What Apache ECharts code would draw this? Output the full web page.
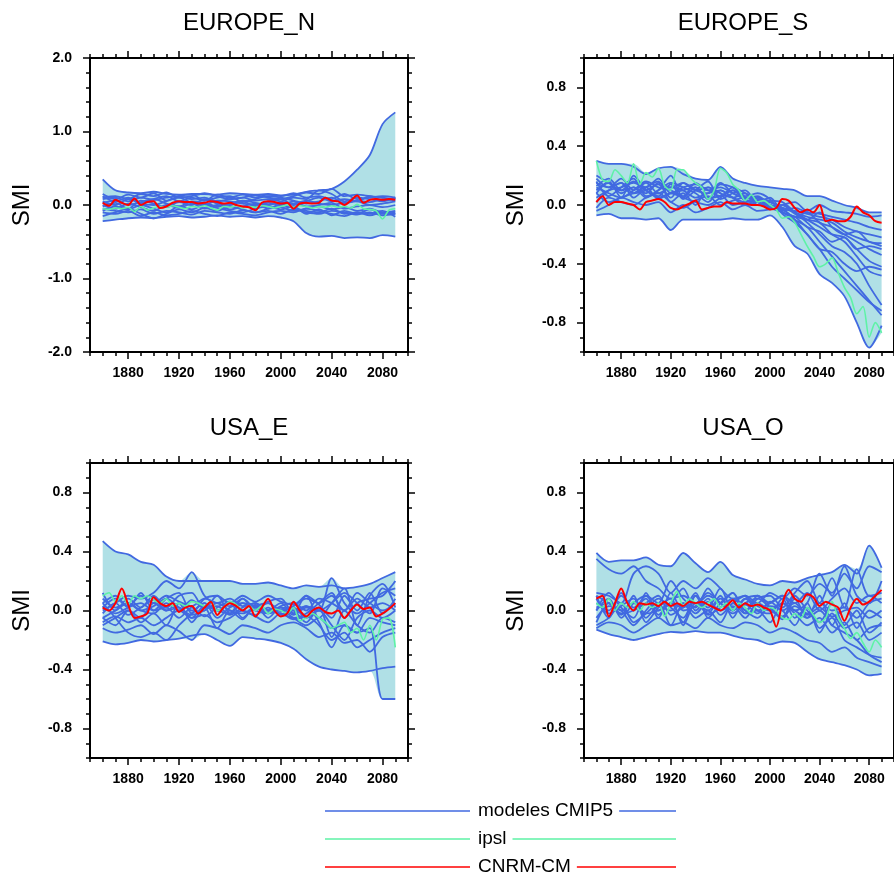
<!DOCTYPE html>
<html>
<head>
<meta charset="utf-8">
<script src="https://cdn.jsdelivr.net/npm/echarts@6/dist/echarts.min.js"></script>
<style>
  html, body { margin: 0; padding: 0; background: #fff; }
  #chart { width: 894px; height: 875px; }
</style>
</head>
<body>
<div id="chart"></div>
<script>
// Years of the smoothed CMIP5 model curves (one value per decade)
const YEARS_MODELS = [1860,1870,1880,1890,1900,1910,1920,1930,1940,1950,1960,1970,
                      1980,1990,2000,2010,2020,2030,2040,2050,2060,2070,2080,2090];
// Years of the ipsl and CNRM-CM curves (one value every 5 years)
const YEARS_RUNS = [1860,1865,1870,1875,1880,1885,1890,1895,1900,1905,
                    1910,1915,1920,1925,1930,1935,1940,1945,1950,1955,
                    1960,1965,1970,1975,1980,1985,1990,1995,2000,2005,
                    2010,2015,2020,2025,2030,2035,2040,2045,2050,2055,
                    2060,2065,2070,2075,2080,2085,2090];
// Full decade grid of the time axis (1850-2100), used to place the model spread
const YEARS_AXIS = [1850,1860,1870,1880,1890,1900,1910,1920,1930,1940,1950,1960,1970,
                    1980,1990,2000,2010,2020,2030,2040,2050,2060,2070,2080,2090,2100];

const X_TICKS = [1880, 1920, 1960, 2000, 2040, 2080];
const Y_TICKS_WIDE = [-2, -1, 0, 1, 2];
const Y_TICKS_NARROW = [-0.8, -0.4, 0, 0.4, 0.8];

// ---------------- EUROPE_N ----------------
const euN_cmip5 = [
  [0.35,0.2,0.17,0.16,0.18,0.15,0.14,0.15,0.15,0.14,0.16,0.15,0.14,0.15,0.13,0.14,0.18,0.2,0.22,0.32,0.48,0.68,1.1,1.26],
  [-0.22,-0.2,-0.18,-0.17,-0.18,-0.16,-0.15,-0.17,-0.16,-0.14,-0.16,-0.15,-0.17,-0.15,-0.17,-0.22,-0.38,-0.43,-0.42,-0.45,-0.44,-0.45,-0.41,-0.43],
  [0.1,0.12,0.08,0.15,0.12,0.17,0.1,0.12,0.16,0.12,0.08,0.1,0.13,0.1,0.08,0.12,0.17,0.15,0.22,0.12,0.14,0.12,0.1,0.08],
  [0.05,0.0,0.08,0.02,0.0,0.05,0.1,0.03,0.0,0.06,0.05,0.02,0.0,0.05,0.08,0.0,0.05,0.1,0.05,0.08,0.05,0.12,0.06,0.1],
  [-0.02,0.03,-0.05,0.06,0.02,-0.03,0.04,0.0,0.08,0.02,0.0,0.05,-0.02,0.03,0.0,0.05,-0.02,0.0,0.03,-0.05,-0.02,0.0,-0.03,0.0],
  [0.0,-0.05,0.02,-0.03,-0.08,0.0,-0.04,0.02,-0.05,0.0,-0.06,-0.02,0.02,-0.05,-0.03,-0.08,-0.05,-0.02,-0.06,-0.03,-0.08,-0.05,-0.1,-0.08],
  [-0.05,-0.08,-0.1,-0.06,-0.12,-0.08,-0.1,-0.13,-0.08,-0.1,-0.12,-0.07,-0.1,-0.08,-0.12,-0.06,-0.1,-0.12,-0.08,-0.1,-0.13,-0.1,-0.14,-0.12],
  [0.08,0.1,0.05,0.1,0.07,0.1,0.12,0.08,0.1,0.05,0.08,0.1,0.06,0.08,0.05,0.1,0.08,0.2,0.15,0.05,0.1,0.08,0.05,0.1],
  [-0.1,-0.12,-0.08,-0.15,-0.1,-0.14,-0.12,-0.08,-0.12,-0.15,-0.1,-0.12,-0.14,-0.1,-0.08,-0.1,-0.05,-0.08,-0.12,-0.15,-0.1,-0.12,-0.08,-0.16],
  [0.03,0.06,0.0,0.04,0.08,0.02,-0.02,0.05,0.03,-0.02,0.02,0.06,0.03,0.0,0.04,0.02,0.06,0.02,0.0,0.03,0.05,0.0,0.02,0.05],
  [-0.15,-0.1,-0.05,-0.12,-0.18,-0.12,-0.06,-0.1,-0.04,-0.08,-0.02,-0.06,-0.1,-0.05,0.0,-0.04,-0.08,-0.1,-0.05,-0.12,-0.1,-0.14,-0.1,-0.12],
  [0.12,0.05,0.1,0.03,0.08,0.12,0.05,0.1,0.06,0.1,0.12,0.04,0.08,0.12,0.1,0.06,0.02,0.05,0.1,0.02,0.06,0.04,0.08,0.06],
  [-0.08,-0.02,-0.06,0.0,-0.05,-0.1,-0.02,-0.06,0.0,-0.04,-0.08,-0.1,-0.05,-0.02,-0.06,-0.02,-0.12,-0.06,-0.14,-0.08,-0.12,-0.06,-0.12,-0.1],
  [0.15,0.08,0.14,0.1,0.16,0.06,0.12,0.14,0.06,0.14,0.1,0.14,0.1,0.14,0.12,0.16,0.1,0.12,0.08,0.15,0.08,0.1,0.12,0.1]
];
const euN_ipsl = [
  -0.05,-0.06,-0.04,-0.05,-0.03,-0.09,-0.02,-0.07,-0.04,-0.02,
  -0.03,-0.01,-0.03,-0.05,-0.02,-0.03,-0.01,-0.04,-0.07,-0.02,
  -0.03,-0.01,-0.04,-0.02,-0.03,-0.01,-0.02,-0.04,-0.02,0.0,
  -0.03,-0.01,-0.02,-0.04,-0.02,-0.03,-0.01,-0.03,-0.02,-0.04,
  0.01,-0.05,-0.06,-0.08,-0.19,-0.07,-0.05
];
const euN_cnrm = [
  0.03,-0.01,0.07,0.03,0.0,0.09,0.0,0.04,0.05,-0.04,
  -0.02,0.03,0.05,0.04,0.04,0.02,0.03,0.05,0.04,0.02,
  0.03,0.0,-0.02,-0.03,-0.07,0.03,0.05,0.04,0.02,0.03,
  -0.05,0.02,0.03,0.02,0.03,0.1,0.06,0.05,0.0,0.06,
  0.13,0.03,0.07,0.08,0.07,0.08,0.07
];

// ---------------- EUROPE_S ----------------
const euS_cmip5 = [
  [0.3,0.28,0.28,0.26,0.21,0.25,0.26,0.21,0.18,0.17,0.26,0.18,0.15,0.13,0.12,0.11,0.1,0.06,0.06,0.03,0.0,-0.02,-0.05,-0.05],
  [-0.07,-0.06,-0.09,-0.09,-0.1,-0.09,-0.17,-0.1,-0.1,-0.1,-0.1,-0.09,-0.1,-0.1,-0.07,-0.15,-0.28,-0.33,-0.47,-0.53,-0.62,-0.8,-0.97,-0.82],
  [0.15,0.12,0.18,0.1,0.15,0.08,0.12,0.1,0.05,0.08,0.1,0.05,0.02,0.03,0.0,-0.05,-0.1,-0.15,-0.25,-0.35,-0.45,-0.55,-0.65,-0.75],
  [0.1,0.15,0.08,0.12,0.05,0.1,0.15,0.12,0.08,0.02,0.1,0.05,0.0,0.02,-0.02,-0.03,-0.1,-0.2,-0.3,-0.42,-0.5,-0.58,-0.66,-0.72],
  [0.05,0.1,0.12,0.15,0.1,0.05,0.08,0.1,0.12,0.05,0.06,0.1,0.03,0.02,-0.02,-0.05,-0.08,-0.1,-0.12,-0.2,-0.25,-0.35,-0.45,-0.48],
  [0.18,0.12,0.15,0.08,0.1,0.14,0.05,0.15,0.1,0.12,0.08,0.05,0.08,0.0,0.02,-0.02,-0.05,-0.1,-0.15,-0.2,-0.22,-0.3,-0.38,-0.42],
  [0.12,0.08,0.05,0.1,0.16,0.12,0.1,0.06,0.15,0.1,0.12,0.08,0.05,0.06,0.0,-0.03,-0.08,-0.05,-0.12,-0.15,-0.2,-0.25,-0.3,-0.34],
  [-0.02,0.05,0.02,0.0,0.05,0.08,0.02,-0.02,0.03,0.06,0.0,0.03,0.05,0.02,-0.01,0.0,-0.05,-0.08,-0.1,-0.12,-0.18,-0.22,-0.25,-0.28],
  [0.2,0.15,0.1,0.12,0.08,0.15,0.12,0.15,0.1,0.08,0.15,0.08,0.05,0.05,0.02,-0.02,-0.04,-0.06,-0.08,-0.1,-0.15,-0.18,-0.2,-0.22],
  [0.08,0.02,0.05,0.08,0.12,0.04,0.08,0.05,0.02,0.0,0.05,0.1,0.04,0.0,0.0,-0.04,-0.02,-0.05,-0.06,-0.08,-0.1,-0.12,-0.15,-0.17],
  [-0.04,0.0,0.05,0.02,0.0,0.02,-0.05,0.0,-0.05,-0.02,0.02,-0.03,0.0,-0.04,-0.03,0.0,0.02,-0.04,0.0,-0.04,-0.05,-0.06,-0.08,-0.07],
  [0.13,0.18,0.1,0.16,0.12,0.18,0.08,0.12,0.14,0.1,0.06,0.12,0.08,0.04,0.03,0.02,-0.05,-0.12,-0.2,-0.28,-0.32,-0.4,-0.55,-0.68],
  [0.08,0.16,0.05,0.2,0.1,0.06,0.14,0.04,0.1,0.16,0.04,0.08,0.1,0.02,0.05,-0.05,-0.08,-0.15,-0.18,-0.25,-0.22,-0.3,-0.28,-0.3],
  [0.02,0.1,0.15,0.05,0.12,0.16,0.02,0.08,0.0,0.12,0.08,0.0,0.02,0.05,-0.03,0.0,-0.06,-0.1,-0.05,-0.15,-0.2,-0.18,-0.25,-0.26],
  [0.16,0.06,0.12,0.18,0.06,0.1,0.2,0.05,0.12,0.04,0.14,0.12,0.06,0.08,0.04,-0.06,-0.12,-0.2,-0.3,-0.32,-0.4,-0.45,-0.42,-0.44]
];
const euS_ipsl = [
  0.3,0.17,0.16,0.24,0.2,0.15,0.28,0.14,0.22,0.19,
  0.25,0.13,0.1,0.24,0.24,0.19,0.15,0.12,0.04,0.1,
  0.25,0.22,0.14,0.1,0.03,0.07,0.02,0.03,0.0,-0.03,
  -0.09,-0.08,-0.12,-0.2,-0.28,-0.35,-0.42,-0.4,-0.36,-0.46,
  -0.56,-0.63,-0.74,-0.69,-0.9,-0.8,-0.87
];
const euS_cnrm = [
  0.02,0.06,0.0,0.02,0.02,0.01,0.0,-0.03,0.02,0.03,
  0.04,0.02,-0.02,-0.03,-0.01,0.01,0.03,-0.03,-0.02,-0.01,
  -0.01,0.02,0.01,0.01,0.01,0.0,0.0,-0.01,-0.03,-0.02,
  0.04,0.03,-0.02,-0.05,-0.03,-0.05,0.0,-0.11,-0.1,-0.11,
  -0.11,-0.08,-0.01,-0.05,-0.07,-0.11,-0.12
];

// ---------------- USA_E ----------------
const usE_cmip5 = [
  [0.47,0.4,0.38,0.33,0.31,0.23,0.2,0.2,0.2,0.2,0.2,0.18,0.18,0.19,0.17,0.15,0.17,0.16,0.17,0.15,0.16,0.18,0.22,0.26],
  [-0.21,-0.23,-0.22,-0.2,-0.21,-0.2,-0.19,-0.17,-0.16,-0.2,-0.24,-0.18,-0.19,-0.2,-0.22,-0.26,-0.33,-0.38,-0.4,-0.41,-0.42,-0.41,-0.39,-0.38],
  [-0.1,-0.05,0.0,-0.05,0.05,0.0,0.02,-0.05,0.03,0.0,-0.02,0.05,0.0,-0.02,0.0,-0.05,-0.1,-0.05,-0.12,-0.1,-0.15,-0.12,-0.6,-0.6],
  [0.05,-0.05,-0.15,-0.18,-0.15,-0.2,-0.1,-0.02,0.05,0.0,0.05,-0.05,0.02,0.0,-0.02,-0.05,-0.02,0.05,0.12,-0.05,0.05,0.08,0.1,0.2],
  [0.0,0.05,0.1,0.08,0.12,0.2,0.15,0.26,0.1,0.05,0.08,0.03,0.05,0.0,0.05,-0.02,0.03,0.0,0.22,0.05,-0.02,0.05,0.12,0.15],
  [-0.05,0.0,0.05,0.0,0.03,0.08,0.02,-0.03,0.0,0.05,0.0,-0.02,0.03,0.05,0.0,0.02,-0.05,0.0,-0.1,-0.2,-0.05,0.0,-0.05,0.0],
  [0.03,-0.02,0.02,0.05,0.0,0.02,-0.05,0.02,-0.04,0.02,0.06,0.0,-0.03,0.02,-0.03,0.0,0.03,-0.08,-0.25,-0.1,-0.15,-0.05,-0.08,-0.1],
  [-0.02,0.05,-0.03,0.02,0.07,0.0,0.05,0.0,0.05,-0.05,0.02,0.05,0.03,-0.02,0.03,0.05,0.0,0.08,0.05,0.0,0.12,0.05,0.0,0.05],
  [0.08,0.02,0.05,0.0,-0.02,0.05,0.0,0.07,0.02,0.03,-0.03,0.02,0.05,0.0,0.02,-0.03,0.02,0.0,0.05,0.12,0.05,-0.02,0.15,0.1],
  [-0.08,-0.04,-0.08,-0.05,-0.1,-0.05,0.0,-0.05,-0.03,-0.08,-0.05,0.0,-0.04,-0.08,-0.02,-0.06,-0.04,-0.1,-0.2,-0.15,-0.25,-0.2,-0.15,-0.12],
  [0.02,0.08,0.03,0.1,0.05,0.1,0.06,0.03,0.08,0.05,0.03,0.08,0.02,0.05,0.0,0.03,0.08,0.05,0.1,0.0,0.08,0.02,0.05,0.0],
  [-0.12,-0.15,-0.13,-0.1,-0.16,-0.1,-0.14,-0.2,-0.1,-0.12,-0.16,-0.1,-0.12,-0.15,-0.1,-0.08,-0.12,-0.18,-0.15,-0.22,-0.2,-0.28,-0.18,-0.15],
  [0.05,0.1,0.02,0.12,0.0,0.08,0.12,-0.02,0.08,0.1,-0.02,0.08,0.0,0.06,0.08,-0.02,0.1,0.04,-0.05,0.1,0.0,0.12,-0.02,0.08],
  [-0.05,-0.1,0.0,-0.08,-0.02,-0.1,0.05,-0.08,0.02,-0.12,0.0,-0.06,0.04,-0.05,0.02,0.0,-0.08,0.02,-0.18,0.0,-0.1,-0.15,-0.05,-0.08],
  [0.12,0.0,0.08,0.02,0.1,0.02,0.1,0.12,0.0,0.1,0.05,0.1,0.06,0.1,0.06,0.04,0.1,-0.05,0.05,0.15,-0.1,0.1,0.18,0.02]
];
const usE_ipsl = [
  0.1,0.12,0.06,0.1,0.04,0.1,0.08,0.1,0.07,0.05,
  0.08,0.03,0.05,0.03,0.06,0.05,0.03,0.06,0.0,0.02,
  0.06,0.04,0.0,0.03,0.0,0.03,-0.02,0.01,0.0,-0.02,
  0.02,-0.07,-0.05,-0.02,-0.05,-0.08,-0.12,-0.1,-0.08,-0.15,
  -0.12,-0.2,-0.1,-0.2,-0.06,-0.05,-0.25
];
const usE_cnrm = [
  0.02,0.0,0.05,0.15,0.04,-0.05,-0.04,-0.02,0.09,0.05,
  0.03,0.05,-0.01,0.02,0.03,-0.02,0.02,0.06,-0.03,0.02,
  0.05,0.03,0.0,0.03,-0.04,0.02,0.08,0.0,-0.04,-0.02,
  0.06,0.0,-0.04,0.0,0.02,-0.01,-0.02,0.0,-0.05,0.0,
  0.04,0.01,0.02,-0.04,-0.02,0.01,0.05
];

// ---------------- USA_O ----------------
const usO_cmip5 = [
  [0.39,0.33,0.34,0.34,0.36,0.31,0.3,0.39,0.32,0.26,0.33,0.24,0.21,0.18,0.17,0.2,0.19,0.22,0.24,0.26,0.31,0.25,0.44,0.29],
  [-0.13,-0.16,-0.18,-0.2,-0.18,-0.16,-0.145,-0.15,-0.14,-0.15,-0.15,-0.17,-0.19,-0.2,-0.23,-0.21,-0.22,-0.28,-0.33,-0.35,-0.37,-0.4,-0.44,-0.43],
  [0.35,0.28,0.25,0.3,0.2,0.15,0.08,0.1,0.05,0.12,0.05,0.0,0.08,0.03,0.0,0.05,0.0,-0.05,0.0,-0.1,-0.15,-0.2,-0.3,-0.35],
  [0.12,0.1,0.05,0.25,0.3,0.25,0.12,0.2,0.15,0.22,0.15,0.08,0.1,0.05,0.12,0.08,0.15,0.1,0.18,0.12,0.25,0.15,0.3,0.26],
  [0.0,0.08,-0.05,0.05,0.1,0.0,0.05,-0.08,0.1,0.02,0.15,0.0,0.08,0.1,0.05,0.1,0.05,0.12,0.0,0.08,0.15,0.05,0.1,0.05],
  [-0.1,-0.05,0.05,-0.08,-0.02,0.05,-0.1,0.05,-0.05,0.0,-0.08,0.05,-0.02,0.0,-0.08,0.05,-0.02,-0.1,-0.05,-0.15,-0.08,-0.2,-0.12,-0.1],
  [0.05,0.0,0.1,0.02,0.08,-0.05,0.12,0.0,0.03,0.1,0.05,-0.02,0.05,0.08,0.02,-0.05,0.1,0.0,-0.08,0.05,-0.1,0.0,-0.15,-0.08],
  [-0.05,0.03,0.0,-0.1,0.0,0.08,0.02,-0.05,0.1,-0.03,0.02,0.08,0.0,-0.05,0.03,0.0,-0.1,0.05,-0.12,-0.05,-0.2,-0.25,-0.3,-0.32],
  [0.08,-0.02,0.03,0.08,-0.05,0.03,0.0,0.05,-0.02,0.06,0.0,0.03,-0.05,0.05,0.0,-0.04,0.03,-0.02,0.05,0.0,0.02,-0.05,0.05,0.08],
  [-0.12,-0.08,-0.1,-0.15,-0.1,-0.05,-0.1,-0.08,-0.12,-0.05,-0.1,-0.12,-0.08,-0.1,-0.15,-0.12,-0.15,-0.2,-0.22,-0.28,-0.25,-0.32,-0.35,-0.38],
  [0.02,0.05,-0.02,0.0,0.05,0.1,-0.03,0.02,0.05,-0.02,0.08,0.02,0.04,-0.02,0.06,0.0,0.05,-0.03,0.02,-0.04,0.0,0.02,-0.05,0.0],
  [0.1,0.05,0.0,0.05,-0.02,0.0,0.05,0.15,0.0,0.08,-0.03,0.05,0.1,0.0,0.05,0.1,0.0,0.05,0.25,0.1,0.3,0.1,0.05,0.2],
  [0.1,-0.05,0.12,0.0,0.1,0.05,0.2,0.08,0.02,0.15,0.05,0.12,0.0,0.08,0.1,0.02,0.12,0.2,0.05,0.22,0.02,0.28,0.1,0.12],
  [-0.08,0.05,-0.03,0.1,-0.08,0.02,0.08,-0.1,0.05,0.0,0.1,-0.05,0.08,0.0,-0.02,0.08,-0.05,0.02,-0.15,-0.02,-0.12,-0.08,-0.2,-0.15],
  [0.0,0.12,0.02,-0.05,0.12,-0.03,0.05,0.02,0.12,-0.05,0.05,0.12,-0.02,0.1,0.02,-0.06,0.08,-0.05,0.1,-0.1,0.05,-0.12,0.0,-0.05]
];
const usO_ipsl = [
  0.05,0.02,0.08,0.0,0.05,0.02,0.06,0.0,0.05,0.02,
  0.05,-0.04,0.05,0.13,0.03,0.08,0.05,0.02,0.05,0.08,
  0.02,0.05,0.0,0.05,0.02,-0.02,0.05,0.0,0.02,0.0,
  -0.05,-0.06,-0.02,-0.05,0.02,-0.03,-0.08,-0.05,0.06,-0.05,
  -0.12,-0.19,-0.15,-0.22,-0.28,-0.2,-0.25
];
const usO_cnrm = [
  0.08,0.1,-0.04,0.05,0.15,0.05,0.0,0.05,0.04,0.05,
  0.03,0.06,0.03,0.05,0.03,0.06,0.05,0.06,0.04,0.02,
  0.0,0.03,0.07,0.02,0.05,0.03,0.04,0.02,0.0,-0.11,
  0.05,0.14,0.08,0.06,0.11,0.09,0.03,0.06,0.04,0.02,
  -0.07,0.02,0.08,0.04,0.06,0.1,0.14
];

const LEGEND_LABELS = ['modeles CMIP5', 'ipsl', 'CNRM-CM'];

// ---------------- styling ----------------
const FONT = "'Liberation Sans', Arial, Helvetica, sans-serif";
const COLOR_CMIP5 = '#4169e1';
const COLOR_IPSL = '#5ef2a6';
const COLOR_CNRM = '#ff0000';
const COLOR_SPREAD = '#b0e0e6';
const SMOOTH = 0.3;

const panels = [
  { title: 'EUROPE_N', models: euN_cmip5, ipsl: euN_ipsl, cnrm: euN_cnrm,
    box: { left: 90, top: 58, width: 318, height: 294 }, yMin: -2, yMax: 2, yTicks: Y_TICKS_WIDE, yMinor: 0.2 },
  { title: 'EUROPE_S', models: euS_cmip5, ipsl: euS_ipsl, cnrm: euS_cnrm,
    box: { left: 584, top: 58, width: 318, height: 294 }, yMin: -1, yMax: 1, yTicks: Y_TICKS_NARROW, yMinor: 0.1 },
  { title: 'USA_E', models: usE_cmip5, ipsl: usE_ipsl, cnrm: usE_cnrm,
    box: { left: 90, top: 463, width: 318, height: 295 }, yMin: -1, yMax: 1, yTicks: Y_TICKS_NARROW, yMinor: 0.1 },
  { title: 'USA_O', models: usO_cmip5, ipsl: usO_ipsl, cnrm: usO_cnrm,
    box: { left: 584, top: 463, width: 318, height: 295 }, yMin: -1, yMax: 1, yTicks: Y_TICKS_NARROW, yMinor: 0.1 }
];

const AXIS_LINE = { color: '#000', width: 2 };
const TICK_LINE = { color: '#000', width: 1.5 };
const TICK_FONT = { fontSize: 14, fontWeight: 'bold', color: '#000', fontFamily: FONT };
const X_PER_GRID = 5;
const Y_PER_GRID = 4;

function xAxesFor(gi) {
  const base = { type: 'value', gridIndex: gi, min: 1850, max: 2100, splitLine: { show: false }, z: 10 };
  const major = (position, labels) => ({
    ...base, position,
    axisLine: { show: true, onZero: false, lineStyle: AXIS_LINE },
    axisTick: { show: true, customValues: X_TICKS, length: 7, lineStyle: TICK_LINE },
    axisLabel: labels
      ? { show: true, customValues: X_TICKS, margin: 14, ...TICK_FONT, formatter: v => String(v) }
      : { show: false }
  });
  const minor = position => ({
    ...base, position, interval: 10,
    axisLine: { show: false, onZero: false },
    axisTick: { show: true, length: 4, lineStyle: TICK_LINE },
    axisLabel: { show: false }
  });
  // hidden decade axis spanning 1850-2100 edge to edge, carrying the stacked spread band
  const decades = {
    type: 'category', gridIndex: gi, data: YEARS_AXIS, boundaryGap: false, show: false,
    position: 'bottom', axisLine: { onZero: false }
  };
  return [major('bottom', true), minor('bottom'), major('top', false), minor('top'), decades];
}

function yAxesFor(gi, p) {
  const base = { type: 'value', gridIndex: gi, min: p.yMin, max: p.yMax, splitLine: { show: false }, z: 10 };
  const major = (position, labels) => ({
    ...base, position,
    axisLine: { show: true, onZero: false, lineStyle: AXIS_LINE },
    axisTick: { show: true, customValues: p.yTicks, length: 7, lineStyle: TICK_LINE },
    axisLabel: labels
      ? { show: true, customValues: p.yTicks, margin: 18, ...TICK_FONT, formatter: v => Number(v).toFixed(1) }
      : { show: false }
  });
  const minor = position => ({
    ...base, position, interval: p.yMinor,
    axisLine: { show: false, onZero: false },
    axisTick: { show: true, length: 4, lineStyle: TICK_LINE },
    axisLabel: { show: false }
  });
  return [major('left', true), minor('left'), major('right', false), minor('right')];
}

const grids = [], xAxes = [], yAxes = [], series = [], graphics = [];

panels.forEach((p, gi) => {
  grids.push({ ...p.box, containLabel: false });
  xAxes.push(...xAxesFor(gi));
  yAxes.push(...yAxesFor(gi, p));
  const ax = { xAxisIndex: gi * X_PER_GRID, yAxisIndex: gi * Y_PER_GRID };
  const axSpread = { xAxisIndex: gi * X_PER_GRID + 4, yAxisIndex: gi * Y_PER_GRID };

  // model spread: min and (max - min) over all curves at each decade, stacked on the decade axis
  const lo = YEARS_AXIS.map(() => null), span = YEARS_AXIS.map(() => null);
  YEARS_MODELS.forEach((yr, i) => {
    const j = YEARS_RUNS.indexOf(yr);
    const k = YEARS_AXIS.indexOf(yr);
    const vals = p.models.map(m => m[i]).concat([p.ipsl[j], p.cnrm[j]]);
    const mn = Math.min(...vals), mx = Math.max(...vals);
    lo[k] = mn;
    span[k] = +(mx - mn).toFixed(4);
  });
  const stack = 'spread' + gi;
  series.push({
    type: 'line', ...axSpread, data: lo, stack, stackStrategy: 'all', smooth: SMOOTH,
    symbol: 'none', silent: true, lineStyle: { opacity: 0 }, z: 1
  });
  series.push({
    type: 'line', ...axSpread, data: span, stack, stackStrategy: 'all', smooth: SMOOTH,
    symbol: 'none', silent: true, lineStyle: { opacity: 0 },
    areaStyle: { color: COLOR_SPREAD, opacity: 1 }, z: 1
  });

  p.models.forEach(m => {
    series.push({
      name: 'modeles CMIP5', type: 'line', ...ax, smooth: SMOOTH, symbol: 'none', silent: true,
      data: YEARS_MODELS.map((yr, i) => [yr, m[i]]),
      lineStyle: { color: COLOR_CMIP5, width: 1.8 }, z: 2
    });
  });
  series.push({
    name: 'ipsl', type: 'line', ...ax, smooth: SMOOTH, symbol: 'none', silent: true,
    data: YEARS_RUNS.map((yr, i) => [yr, p.ipsl[i]]),
    lineStyle: { color: COLOR_IPSL, width: 1.6 }, z: 3
  });
  series.push({
    name: 'CNRM-CM', type: 'line', ...ax, smooth: SMOOTH, symbol: 'none', silent: true,
    data: YEARS_RUNS.map((yr, i) => [yr, p.cnrm[i]]),
    lineStyle: { color: COLOR_CNRM, width: 2 }, z: 4
  });

  // panel title and y-axis name
  const cx = p.box.left + p.box.width / 2;
  const cy = p.box.top + p.box.height / 2;
  graphics.push({
    type: 'text', x: cx, y: p.box.top - 35,
    style: { text: p.title, fontSize: 24, fontFamily: FONT, fill: '#000',
             textAlign: 'center', textVerticalAlign: 'middle', align: 'center', verticalAlign: 'middle' }
  });
  graphics.push({
    type: 'text', x: p.box.left - 68, y: cy, rotation: Math.PI / 2,
    style: { text: 'SMI', fontSize: 24, fontFamily: FONT, fill: '#000',
             textAlign: 'center', textVerticalAlign: 'middle', align: 'center', verticalAlign: 'middle' }
  });
});

// legend: line - label - line, one row per curve family
const measure = document.createElement('canvas').getContext('2d');
measure.font = `19px ${FONT}`;
const legendColors = [COLOR_CMIP5, COLOR_IPSL, COLOR_CNRM];
LEGEND_LABELS.forEach((label, r) => {
  const y = 811 + r * 28;
  const textX = 478;
  const w = measure.measureText(label).width;
  graphics.push({ type: 'line', shape: { x1: 325, y1: y, x2: 470, y2: y },
                  style: { stroke: legendColors[r], lineWidth: 1.5 } });
  graphics.push({ type: 'line', shape: { x1: textX + w + 6, y1: y, x2: 676, y2: y },
                  style: { stroke: legendColors[r], lineWidth: 1.5 } });
  graphics.push({
    type: 'text', x: textX, y,
    style: { text: label, fontSize: 19, fontFamily: FONT, fill: '#000',
             textAlign: 'left', textVerticalAlign: 'middle', align: 'left', verticalAlign: 'middle' }
  });
});

const chart = echarts.init(document.getElementById('chart'), null, { renderer: 'canvas' });
chart.setOption({
  animation: false,
  backgroundColor: '#fff',
  grid: grids,
  xAxis: xAxes,
  yAxis: yAxes,
  series,
  graphic: graphics
});
</script>
</body>
</html>
